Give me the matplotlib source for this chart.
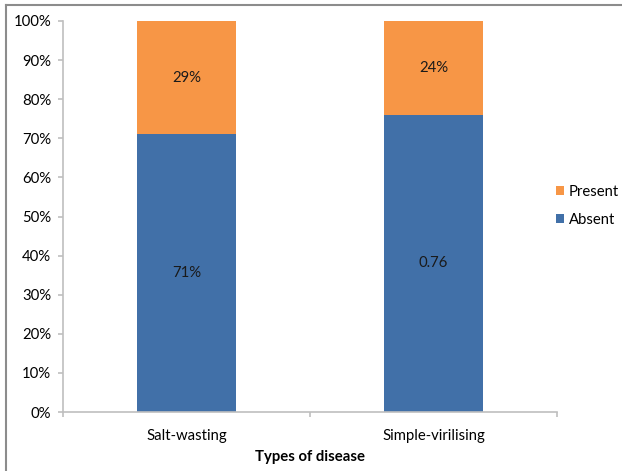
import numpy as np
import matplotlib
matplotlib.use("Agg")
import matplotlib.pyplot as plt
from matplotlib.lines import Line2D
from matplotlib.ticker import PercentFormatter

# --- data ---
categories = ["Salt-wasting", "Simple-virilising"]
absent = [0.71, 0.76]
present = [0.29, 0.24]
absent_labels = ["71%", "0.76"]
present_labels = ["29%", "24%"]

blue = "#4170A8"
orange = "#F79646"
axis_gray = "#BFBFBF"
fs = 10.7

plt.rcParams["font.family"] = ["Lato", "DejaVu Sans"]
plt.rcParams["font.size"] = fs

fig = plt.figure(figsize=(6.22, 4.71), dpi=100)
ax = fig.add_axes([63 / 622, 1 - 412 / 471, (557 - 63) / 622, (412 - 21) / 471])

x = np.arange(len(categories))
b_abs = ax.bar(x, absent, width=0.4, color=blue, label="Absent", zorder=2)
b_pre = ax.bar(x, present, width=0.4, bottom=absent, color=orange, label="Present", zorder=2)

# value labels in the middle of each segment
for i in range(len(categories)):
    ax.text(x[i], absent[i] / 2, absent_labels[i], ha="center", va="center",
            fontsize=fs, color="#1a1a1a")
    ax.text(x[i], absent[i] + present[i] / 2, present_labels[i], ha="center", va="center",
            fontsize=fs, color="#1a1a1a")

ax.set_xlim(-0.5, len(categories) - 0.5)
ax.set_ylim(0, 1)
ax.set_yticks(np.linspace(0, 1, 11))
ax.yaxis.set_major_formatter(PercentFormatter(1.0, decimals=0))

# x axis: ticks between categories, labels centred
ax.set_xticks([-0.5, 0.5, 1.5])
ax.set_xticklabels([])
ax.set_xticks(x, minor=True)
ax.set_xticklabels(categories, minor=True)
ax.tick_params(axis="x", which="minor", length=0, pad=12, labelsize=fs)
ax.tick_params(axis="x", which="major", length=3.6, color=axis_gray, width=1.2)
ax.tick_params(axis="y", length=3.6, color=axis_gray, width=1.2, pad=5, labelsize=fs)

for s in ["top", "right"]:
    ax.spines[s].set_visible(False)
for s in ["left", "bottom"]:
    ax.spines[s].set_color(axis_gray)
    ax.spines[s].set_linewidth(1.2)

ax.set_xlabel("Types of disease", fontweight="bold", fontsize=fs, labelpad=5)

# legend on the right, Present above Absent
fig.legend([b_pre, b_abs], ["Present", "Absent"], loc="center left",
           bbox_to_anchor=(556 / 622, 1 - 206 / 471), frameon=False,
           borderpad=0, borderaxespad=0,
           handlelength=0.55, handleheight=0.55, handletextpad=0.3,
           labelspacing=0.95, fontsize=fs)

# outer frame of the picture (left and top edges only are visible)
fig.lines.append(Line2D([5.5 / 622, 5.5 / 622], [0, 1 - 5 / 471], transform=fig.transFigure,
                        color="#8c8c8c", linewidth=1.5))
fig.lines.append(Line2D([5.5 / 622, 621 / 622], [1 - 5 / 471, 1 - 5 / 471], transform=fig.transFigure,
                        color="#8c8c8c", linewidth=1.5))

fig.savefig("out.png", dpi=100)
